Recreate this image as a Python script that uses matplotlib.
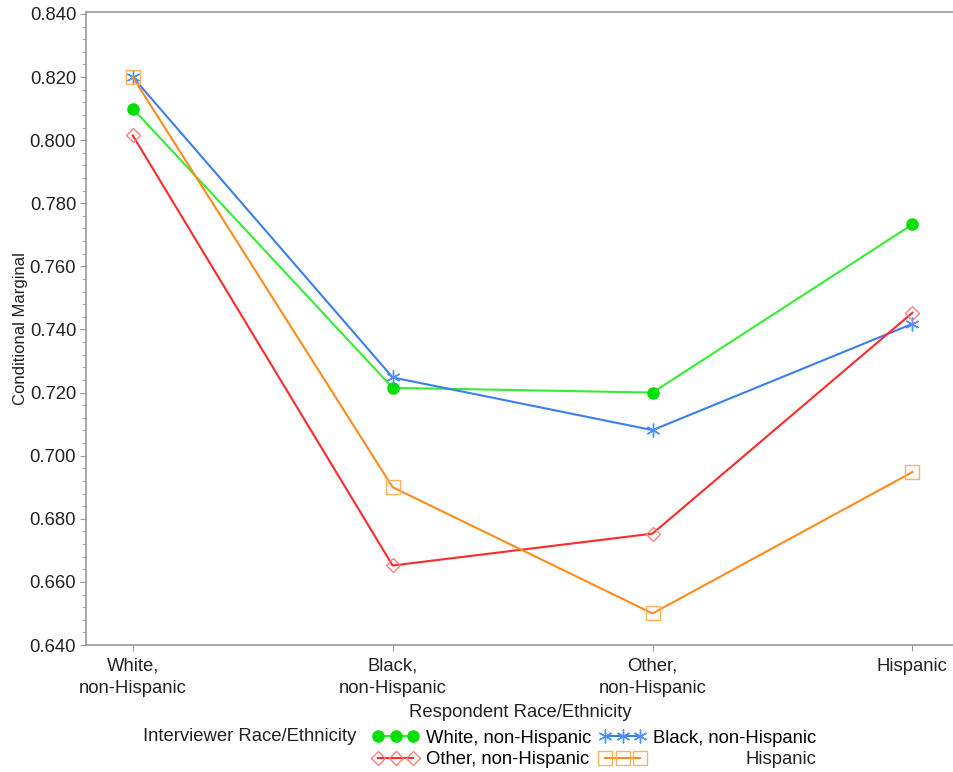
import matplotlib.pyplot as plt
from matplotlib.ticker import MultipleLocator, FormatStrFormatter

plt.rcParams['font.family'] = ['Liberation Sans', 'DejaVu Sans']

respondent = ["White,\nnon-Hispanic", "Black,\nnon-Hispanic", "Other,\nnon-Hispanic", "Hispanic"]
white_int = [0.810, 0.7215, 0.7200, 0.7733]
black_int = [0.820, 0.7248, 0.7081, 0.7418]
other_int = [0.8015, 0.6652, 0.6753, 0.7453]
hisp_int = [0.820, 0.6900, 0.6500, 0.6948]

fs = 13.3

fig = plt.figure(figsize=(9.54, 7.72), dpi=100)
ax = fig.add_axes([0.0901, 0.1645, 0.9099, 0.8195])

x = range(len(respondent))
ax.plot(x, white_int, color='#33ee33', lw=1.5, marker='o', ms=8,
        mfc='#00e000', mec='#00e000', label="White, non-Hispanic", zorder=3)
ax.plot(x, black_int, color='#3a7ff0', lw=1.5, marker=(6, 2, 0), ms=10,
        mec='#5090ff', mew=1.0, label="Black, non-Hispanic", zorder=3)
ax.plot(x, other_int, color='#ff2a2a', lw=1.5, marker='D', ms=7,
        mfc='none', mec='#ff8080', mew=1.0, label="Other, non-Hispanic", zorder=3)
ax.plot(x, hisp_int, color='#ff8c1a', lw=1.5, marker='s', ms=10,
        mfc='none', mec='#ffb060', mew=1.0, label="Hispanic", zorder=3)

ax.set_xlim(-0.18, 3.16)
ax.set_ylim(0.640, 0.8405)
ax.set_xticks(list(x))
ax.set_xticklabels(respondent, fontsize=fs, color='#222222', linespacing=1.45)
ax.yaxis.set_major_locator(MultipleLocator(0.02))
ax.yaxis.set_minor_locator(MultipleLocator(0.004))
ax.yaxis.set_major_formatter(FormatStrFormatter('%.3f'))
ax.tick_params(axis='y', labelsize=fs, colors='#999999', labelcolor='#222222', length=4, pad=3)
ax.tick_params(axis='y', which='minor', length=3, colors='#999999')
ax.tick_params(axis='x', length=4, colors='#999999', labelcolor='#222222', pad=5)

for s in ['left', 'bottom', 'top']:
    ax.spines[s].set_color('#999999')
    ax.spines[s].set_linewidth(1.2)
ax.spines['right'].set_visible(False)

ax.set_ylabel("Conditional Marginal", fontsize=12, color='#222222', labelpad=1)
ax.set_xlabel("Respondent Race/Ethnicity", fontsize=fs, color='#222222', labelpad=5)

h, l = ax.get_legend_handles_labels()
order = [0, 2, 1, 3]
labs = [l[i] for i in order]
labs[3] = ""
fig.text(0.150, 0.0455, "Interviewer Race/Ethnicity", fontsize=fs, color='#222222',
         va='center')
leg = fig.legend([h[i] for i in order], labs, ncol=2, numpoints=3,
                 handlelength=2.5, frameon=False, fontsize=fs,
                 loc='center left', bbox_to_anchor=(0.373, 0.030),
                 columnspacing=0.45, handletextpad=0.4, labelspacing=0.25)

# "Hispanic" sits right-aligned under "Black, non-Hispanic"
fig.canvas.draw()
r = fig.canvas.get_renderer()
inv = fig.transFigure.inverted()
bb_black = inv.transform_bbox(leg.get_texts()[2].get_window_extent(r))
bb_other = inv.transform_bbox(leg.get_texts()[1].get_window_extent(r))
fig.text(bb_black.x1, (bb_other.y0 + bb_other.y1) / 2, l[3], fontsize=fs,
         color='#222222', ha='right', va='center')

fig.savefig("out.png", dpi=100)
